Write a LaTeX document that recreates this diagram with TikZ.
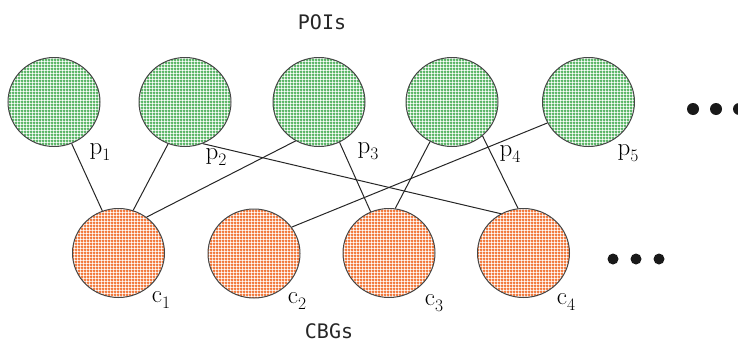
\documentclass[tikz,border=0pt]{standalone}
\usepackage{fontspec}
\newfontfamily\monofont{DejaVu Sans Mono}
\usetikzlibrary{shapes.geometric,patterns.meta}
\definecolor{poigreen}{RGB}{92,182,104}
\definecolor{cbgorange}{RGB}{242,122,62}
\definecolor{bordergray}{RGB}{70,70,70}
\newcommand{\subl}[2]{#1\raisebox{-0.22em}{\fontsize{17.5}{20}\selectfont #2}}
\tikzdeclarepattern{
  name=dotgrid,
  type=uncolored,
  bounding box={(0pt,0pt) and (3pt,3pt)},
  tile size={(3pt,3pt)},
  code={
    \pgfsetlinewidth{1.75pt}
    \pgfpathmoveto{\pgfqpoint{0pt}{1.5pt}}\pgfpathlineto{\pgfqpoint{3pt}{1.5pt}}
    \pgfpathmoveto{\pgfqpoint{1.5pt}{0pt}}\pgfpathlineto{\pgfqpoint{1.5pt}{3pt}}
    \pgfusepath{stroke}
  }
}
\tikzset{
  blob/.style={ellipse, draw=bordergray, line width=1pt, inner sep=0pt,
    minimum width=92pt, minimum height=89pt, pattern=dotgrid},
  poi/.style={blob, pattern color=poigreen},
  cbg/.style={blob, pattern color=cbgorange},
  edge/.style={draw=black!85, line width=1pt},
  lbl/.style={font=\fontsize{25}{30}\selectfont, inner sep=0pt},
  ttl/.style={font=\monofont\fontsize{20}{22}\selectfont, text=black!85, inner sep=0pt},
  dot/.style={fill=black!90}
}
\begin{document}
\begin{tikzpicture}[x=1pt,y=-1pt]
\useasboundingbox (0,0) rectangle (738,343);
\node[poi] (p1) at (54,102) {};
\node[poi] (p2) at (185,102) {};
\node[poi] (p3) at (319,102) {};
\node[poi] (p4) at (452,102) {};
\node[poi] (p5) at (588.5,102) {};
\node[cbg] (c1) at (118.5,253) {};
\node[cbg] (c2) at (254,253.5) {};
\node[cbg] (c3) at (389,253) {};
\node[cbg] (c4) at (523.5,253) {};
\draw[edge] (p1.-67) -- (c1.111);
\draw[edge] (p2.-112) -- (c1.71);
\draw[edge] (p3.-121) -- (c1.52);
\draw[edge] (p2.-67) -- (c4.120);
\draw[edge] (p3.-63) -- (c3.114);
\draw[edge] (p4.-119) -- (c3.82);
\draw[edge] (p5.-153) -- (c2.35);
\draw[edge] (p4.-48) -- (c4.97);
\node[lbl] (lp1) at (100,152) {\subl{p}{1}};
\node[lbl] (lp2) at (216,157) {\subl{p}{2}};
\node[lbl] (lp3) at (368,151) {\subl{p}{3}};
\node[lbl] (lp4) at (510,154) {\subl{p}{4}};
\node[lbl] (lp5) at (628,153) {\subl{p}{5}};
\node[lbl] (lc1) at (161,300) {\subl{c}{1}};
\node[lbl] (lc2) at (297,301) {\subl{c}{2}};
\node[lbl] (lc3) at (434,303) {\subl{c}{3}};
\node[lbl] (lc4) at (566,302) {\subl{c}{4}};
\node[ttl] (poititle) at (322,22) {POIs};
\node[ttl] (cbgtitle) at (329,331) {CBGs};
\fill[dot] (693,109) circle (6pt);
\fill[dot] (716,109) circle (6pt);
\fill[dot] (739,109) circle (6pt);
\fill[dot] (613,259) circle (5.5pt);
\fill[dot] (636,259) circle (5.5pt);
\fill[dot] (659,259) circle (5.5pt);
\end{tikzpicture}
\end{document}
